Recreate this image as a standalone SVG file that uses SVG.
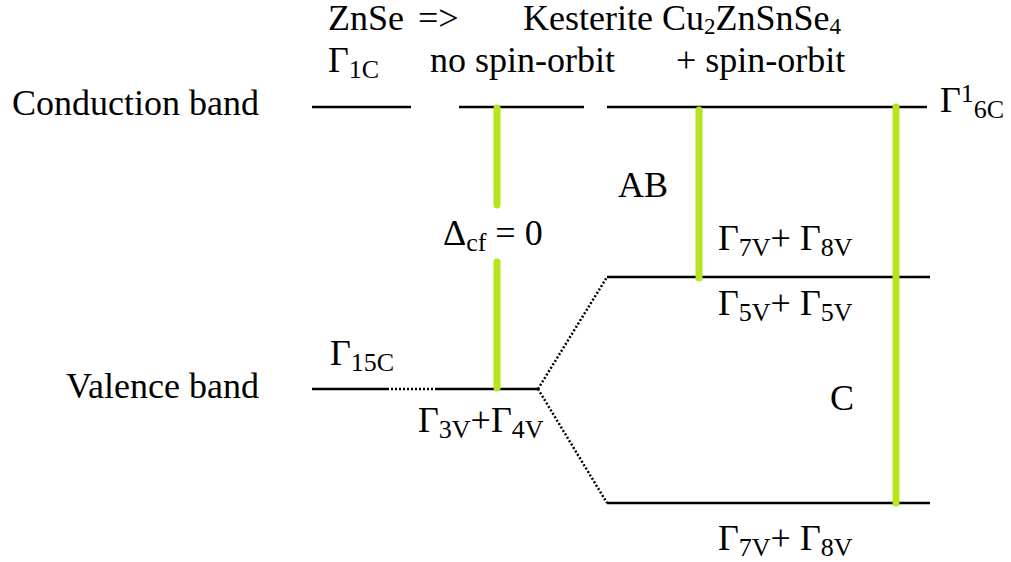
<svg xmlns="http://www.w3.org/2000/svg" width="1011" height="562" viewBox="0 0 1011 562">
<style>
text{font-family:"Liberation Serif","Times New Roman",serif;font-size:36px;fill:#000}
.s{font-size:26px}
.hs{font-size:23px}
.lv{stroke:#000;stroke-width:2.5;fill:none}
.dt{stroke:#000;stroke-width:2.5;stroke-dasharray:2 2;fill:none}
.g{stroke:#b5e61d;stroke-width:7;stroke-linecap:round;fill:none}
</style>
<rect width="1011" height="562" fill="#fff"/>
<g id="header">
<text x="328" y="30">ZnSe</text>
<text x="418" y="30">=&gt;</text>
<text x="523" y="30">Kesterite Cu<tspan class="hs" dy="4">2</tspan><tspan dy="-4">ZnSnSe</tspan><tspan class="hs" dy="4">4</tspan></text>
<text x="328" y="72">Γ<tspan class="s" dy="6">1C</tspan></text>
<text x="430" y="72">no spin-orbit</text>
<text x="676" y="72">+ spin-orbit</text>
</g>
<g id="band-labels">
<text x="12" y="115">Conduction band</text>
<text x="66" y="398">Valence band</text>
</g>
<g id="connectors">
<line class="lv" x1="312" y1="107" x2="411" y2="107"/>
<line class="lv" x1="459" y1="107" x2="584" y2="107"/>
<line class="lv" x1="607" y1="107" x2="927" y2="107"/>
<line class="lv" x1="607" y1="277" x2="930" y2="277"/>
<line class="lv" x1="607" y1="503" x2="930" y2="503"/>
<line class="lv" x1="312" y1="389" x2="387" y2="389"/>
<line class="dt" x1="387" y1="389" x2="437" y2="389"/>
<line class="lv" x1="437" y1="389" x2="538" y2="389"/>
<line class="dt" x1="538" y1="389" x2="607" y2="277"/>
<line class="dt" x1="538" y1="389" x2="607" y2="503"/>
<line class="g" x1="497" y1="108" x2="497" y2="205"/>
<line class="g" x1="497" y1="262" x2="497" y2="388"/>
<line class="g" x1="699" y1="110" x2="699" y2="278"/>
<line class="g" x1="896" y1="107" x2="896" y2="503"/>
</g>
<g id="level-labels">
<text x="940" y="112">Γ<tspan class="s" dy="-10">1</tspan><tspan class="s" dy="16">6C</tspan></text>
<text x="618" y="197">AB</text>
<text x="443" y="245">Δ<tspan class="s" dy="6">cf</tspan><tspan dy="-6"> = 0</tspan></text>
<text x="718" y="250">Γ<tspan class="s" dy="6">7V</tspan><tspan dy="-6">+ Γ</tspan><tspan class="s" dy="6">8V</tspan></text>
<text x="718" y="315">Γ<tspan class="s" dy="6">5V</tspan><tspan dy="-6">+ Γ</tspan><tspan class="s" dy="6">5V</tspan></text>
<text x="330" y="365">Γ<tspan class="s" dy="6">15C</tspan></text>
<text x="418" y="432">Γ<tspan class="s" dy="6">3V</tspan><tspan dy="-6">+Γ</tspan><tspan class="s" dy="6">4V</tspan></text>
<text x="830" y="410">C</text>
<text x="718" y="550">Γ<tspan class="s" dy="6">7V</tspan><tspan dy="-6">+ Γ</tspan><tspan class="s" dy="6">8V</tspan></text>
</g>
</svg>
